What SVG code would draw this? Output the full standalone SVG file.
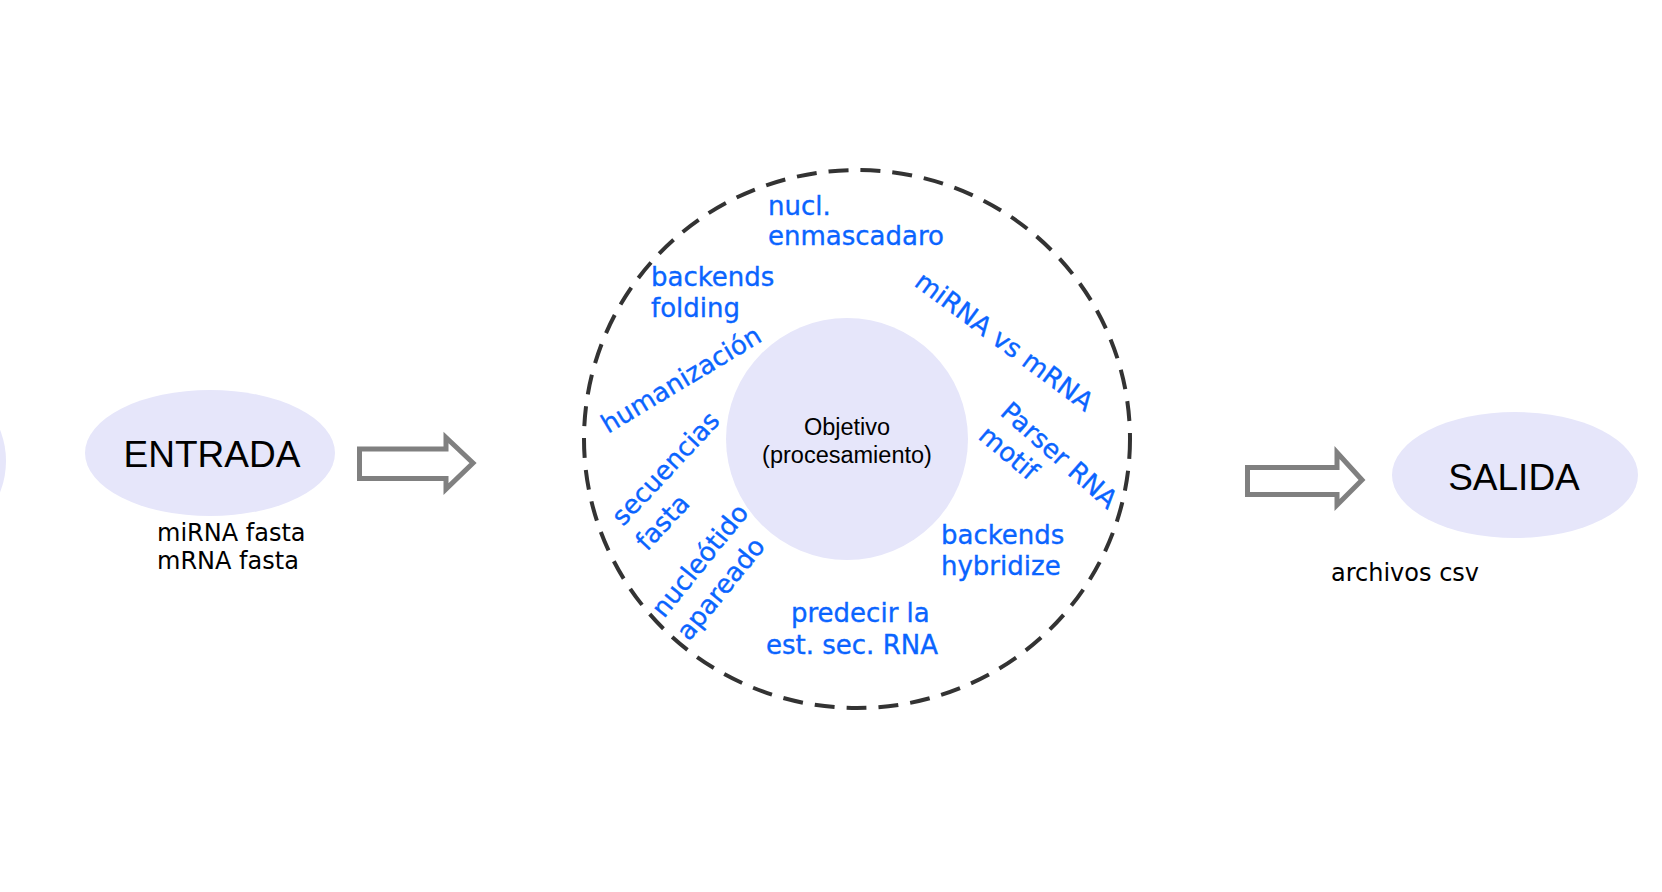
<svg xmlns="http://www.w3.org/2000/svg" width="1662" height="892" viewBox="0 0 1662 892">
<style>
.node{fill:#e6e6fa;stroke:none}
.big{font-family:"Liberation Sans",Arial,sans-serif;font-size:37px;fill:#000;text-anchor:middle}
.obj{font-family:"Liberation Sans",Arial,sans-serif;font-size:23.5px;fill:#000;text-anchor:middle}
.note{font-family:"DejaVu Sans",Verdana,sans-serif;font-size:24px;fill:#000}
.lbl{font-family:"DejaVu Sans",Verdana,sans-serif;font-size:26px;fill:#0a64ff;stroke:#0a64ff;stroke-width:0.35}
.arrow{fill:#fff;stroke:#808080;stroke-width:5}
</style>
<rect width="1662" height="892" fill="#fff"/>
<g id="partial-node">
<ellipse class="node" cx="-60" cy="461" rx="66" ry="75"/>
</g>
<g id="entrada">
<ellipse class="node" cx="210" cy="453" rx="125" ry="63"/>
<text class="big" x="212" y="467">ENTRADA</text>
<text class="note" x="157" y="541">miRNA fasta</text>
<text class="note" x="157" y="569">mRNA fasta</text>
</g>
<g id="proceso">
<ellipse cx="857" cy="439" rx="273" ry="269" fill="none" stroke="#333" stroke-width="4" stroke-dasharray="20 12"/>
<circle class="node" cx="847" cy="439" r="121"/>
<text class="obj" x="847" y="435">Objetivo</text>
<text class="obj" x="847" y="463">(procesamiento)</text>
<text class="lbl" x="768" y="215">nucl.</text>
<text class="lbl" x="768" y="245">enmascadaro</text>
<text class="lbl" x="651" y="286">backends</text>
<text class="lbl" x="651" y="317">folding</text>
<text class="lbl" transform="translate(608,434) rotate(-31)">humanización</text>
<text class="lbl" transform="translate(623,527) rotate(-47)">secuencias</text>
<text class="lbl" transform="translate(647,552) rotate(-47)">fasta</text>
<text class="lbl" transform="translate(664,619) rotate(-51)">nucleótido</text>
<text class="lbl" transform="translate(689,642) rotate(-51)">apareado</text>
<text class="lbl" transform="translate(913,285) rotate(36.5)">miRNA vs mRNA</text>
<text class="lbl" transform="translate(999,414) rotate(41.5)">Parser RNA</text>
<text class="lbl" transform="translate(977,438) rotate(40)">motif</text>
<text class="lbl" x="941" y="544">backends</text>
<text class="lbl" x="941" y="575">hybridize</text>
<text class="lbl" x="791" y="622">predecir la</text>
<text class="lbl" x="766" y="654">est. sec. RNA</text>
</g>
<g id="salida">
<ellipse class="node" cx="1515" cy="475" rx="123" ry="63"/>
<text class="big" x="1514" y="490">SALIDA</text>
<text class="note" x="1331" y="581">archivos csv</text>
</g>
<g id="connectors">
<path class="arrow" d="M359.5,449 L446,449 L446,437.5 L473,463 L446,489 L446,478.5 L359.5,478.5 Z"/>
<path class="arrow" d="M1247.5,467.5 L1337,467.5 L1337,452.5 L1362,480 L1337,505 L1337,494.5 L1247.5,494.5 Z"/>
</g>
</svg>
